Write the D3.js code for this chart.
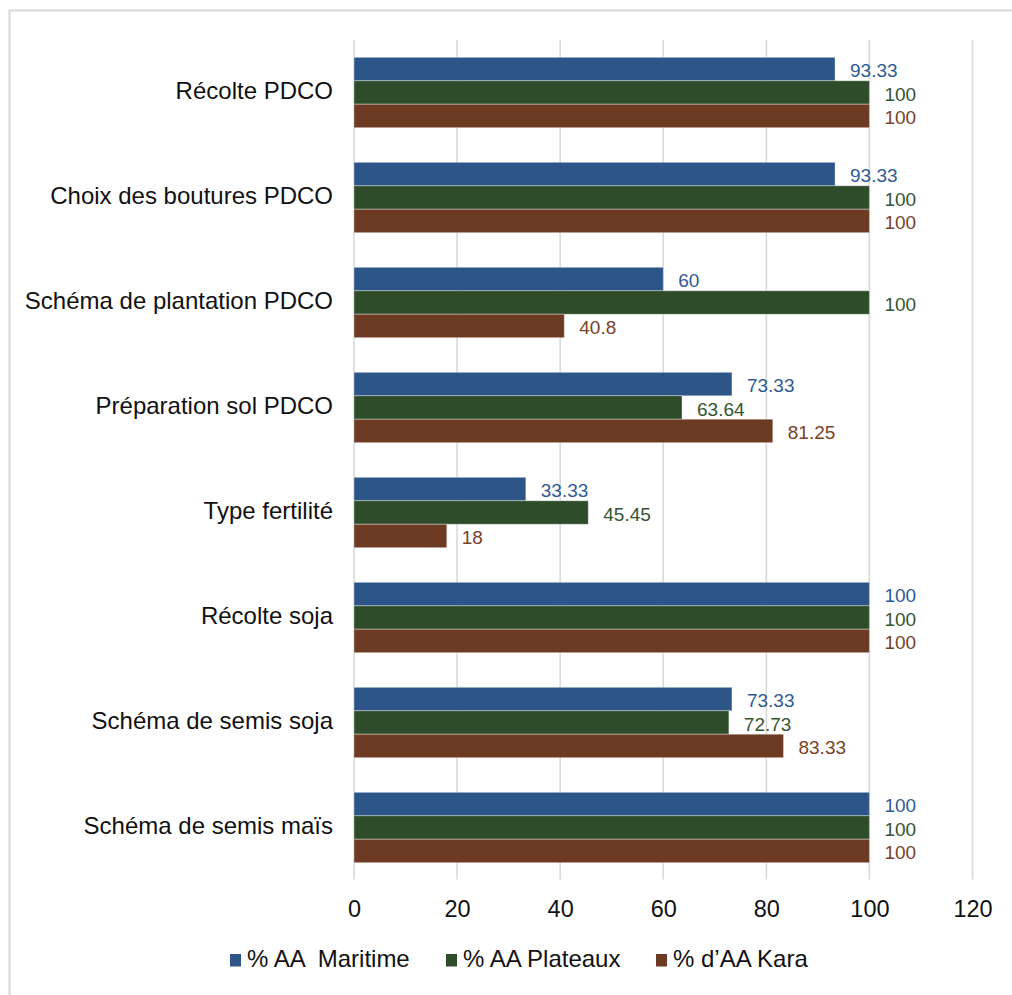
<!DOCTYPE html>
<html>
<head>
<meta charset="utf-8">
<script src="https://cdn.jsdelivr.net/npm/d3@7"></script>
<style>
  html, body { margin: 0; padding: 0; background: #fff; }
  svg { display: block; font-family: "Liberation Sans", Arial, sans-serif; }
</style>
</head>
<body>
<svg id="chart" width="1012" height="995"></svg>
<script>
// ---- data ----
const categories = [
  "Récolte PDCO",
  "Choix des boutures PDCO",
  "Schéma de plantation PDCO",
  "Préparation sol PDCO",
  "Type fertilité",
  "Récolte soja",
  "Schéma de semis soja",
  "Schéma de semis maïs"
];
const seriesNames = ["% AA  Maritime", "% AA Plateaux", "% d\u2019AA Kara"];
const maritime = [93.33, 93.33, 60, 73.33, 33.33, 100, 73.33, 100];
const plateaux = [100, 100, 100, 63.64, 45.45, 100, 72.73, 100];
const kara     = [100, 100, 40.8, 81.25, 18, 100, 83.33, 100];
const xTicks = [0, 20, 40, 60, 80, 100, 120];

// ---- styling ----
const barColors = ["#2d5588", "#2e4b2a", "#6d3a23"];
const labelColors = ["#2f5a96", "#355530", "#7a4128"];
const seriesValues = [maritime, plateaux, kara];

const svg = d3.select("#chart");

// outer frame (top + left visible)
svg.append("rect")
  .attr("x", 9.5).attr("y", 10.5)
  .attr("width", 1040).attr("height", 1040)
  .attr("fill", "none").attr("stroke", "#d9d9d9").attr("stroke-width", 2);

const x = d3.scaleLinear().domain([0, 120]).range([354, 972.5]);
const y0 = d3.scaleBand().domain(categories).range([40, 880])
  .paddingInner(0.33).paddingOuter(0.165);
const y1 = d3.scaleBand().domain(d3.range(seriesNames.length)).range([0, y0.bandwidth()]);

// gridlines
svg.append("g").selectAll("line").data(xTicks).join("line")
  .attr("x1", d => x(d)).attr("x2", d => x(d))
  .attr("y1", 40).attr("y2", 879.5)
  .attr("stroke", "#d9d9d9").attr("stroke-width", 1.6);

// x axis tick labels
const xAxis = d3.axisBottom(x).tickValues(xTicks).tickSize(0).tickPadding(0).tickFormat(d3.format("d"));
const gx = svg.append("g").attr("transform", "translate(0,916.5)").call(xAxis);
gx.select(".domain").remove();
gx.selectAll("text")
  .attr("dy", 0).attr("y", 0)
  .attr("font-size", 23.5).attr("fill", "#111")
  .attr("font-family", "'Liberation Sans', Arial, sans-serif");

// category labels
const yAxis = d3.axisLeft(y0).tickSize(0).tickPadding(0);
const gy = svg.append("g").attr("transform", "translate(333,0)").call(yAxis);
gy.select(".domain").remove();
gy.selectAll("text")
  .attr("dy", 0).attr("y", 0)
  .attr("transform", "translate(0,6.5)")
  .attr("font-size", 24).attr("fill", "#111")
  .attr("font-family", "'Liberation Sans', Arial, sans-serif");

// bars
const groups = svg.append("g").selectAll("g").data(categories).join("g")
  .attr("transform", c => `translate(0,${y0(c)})`);

groups.selectAll("rect")
  .data((c, ci) => seriesValues.map((vals, si) => ({ si, v: vals[ci] })))
  .join("rect")
  .attr("x", x(0))
  .attr("y", d => y1(d.si))
  .attr("width", d => x(d.v) - x(0))
  .attr("height", y1.bandwidth())
  .attr("fill", d => barColors[d.si])
  .attr("stroke", "rgba(255,255,255,0.35)")
  .attr("stroke-width", 1);

groups.selectAll("text")
  .data((c, ci) => seriesValues.map((vals, si) => ({ si, v: vals[ci] })))
  .join("text")
  .attr("x", d => x(d.v) + 15)
  .attr("y", d => y1(d.si) + y1.bandwidth() / 2 + 8.3)
  .attr("font-size", 19)
  .attr("fill", d => labelColors[d.si])
  .text(d => String(d.v));

// legend
const legendX = [230, 446, 656];
const legend = svg.append("g").selectAll("g").data(seriesNames).join("g")
  .attr("transform", (d, i) => `translate(${legendX[i]},0)`);
legend.append("rect")
  .attr("x", 0).attr("y", 954).attr("width", 11).attr("height", 12.5)
  .attr("fill", (d, i) => barColors[i]);
legend.append("text")
  .attr("x", 17).attr("y", 967)
  .attr("font-size", 24).attr("fill", "#111")
  .style("white-space", "pre")
  .text(d => d);
</script>
</body>
</html>
